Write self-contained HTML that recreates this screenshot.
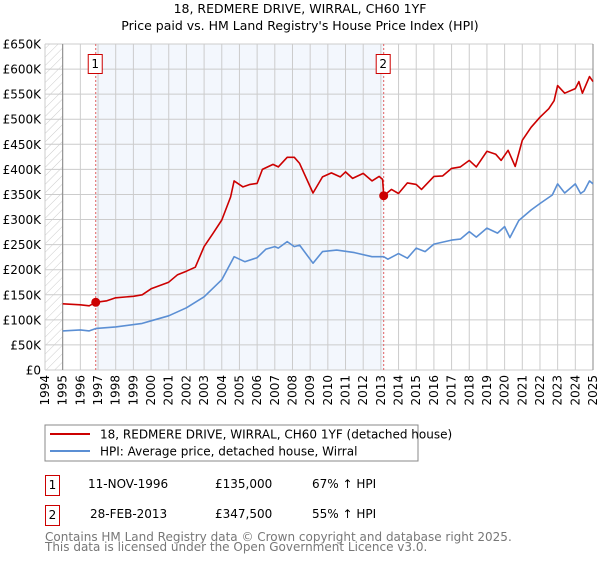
<!DOCTYPE html>
<html><head><meta charset="utf-8"><style>
body{margin:0;background:#fff;font-family:"DejaVu Sans","Liberation Sans",sans-serif;}
svg text{font-family:"DejaVu Sans","Liberation Sans",sans-serif;}
</style></head><body>
<svg id="c" width="600" height="560" xmlns="http://www.w3.org/2000/svg">
<defs><pattern id="hatch" width="6" height="6" patternUnits="userSpaceOnUse" patternTransform="rotate(45)"><line x1="0" y1="0" x2="0" y2="6" stroke="#ccc" stroke-width="1"/></pattern></defs>
<text x="300" y="13" text-anchor="middle" font-size="12.5" fill="#000">18, REDMERE DRIVE, WIRRAL, CH60 1YF</text>
<text x="300" y="30" text-anchor="middle" font-size="12.5" fill="#000">Price paid vs. HM Land Registry's House Price Index (HPI)</text>
<g id="plot"></g>
<rect x="45" y="425" width="373" height="36" fill="#fff" stroke="#888"/>
<line x1="50" y1="434" x2="90" y2="434" stroke="#cc0000" stroke-width="2"/>
<text x="100" y="438.5" font-size="12">18, REDMERE DRIVE, WIRRAL, CH60 1YF (detached house)</text>
<line x1="50" y1="451" x2="90" y2="451" stroke="#5b8fd4" stroke-width="2"/>
<text x="100" y="455.5" font-size="12">HPI: Average price, detached house, Wirral</text>
<g>
<rect x="45.5" y="475.5" width="14" height="20" fill="#fff" stroke="#cc0000"/>
<text x="52.5" y="489" font-size="12" text-anchor="middle">1</text>
<text x="88" y="488" font-size="12">11-NOV-1996</text>
<text x="215" y="488" font-size="12">£135,000</text>
<text x="312" y="488" font-size="12">67% ↑ HPI</text>
</g>
<g>
<rect x="45.5" y="505.5" width="14" height="20" fill="#fff" stroke="#cc0000"/>
<text x="52.5" y="519" font-size="12" text-anchor="middle">2</text>
<text x="90" y="518" font-size="12">28-FEB-2013</text>
<text x="215" y="518" font-size="12">£347,500</text>
<text x="312" y="518" font-size="12">55% ↑ HPI</text>
</g>
<text x="45" y="541" font-size="12" fill="#777">Contains HM Land Registry data © Crown copyright and database right 2025.</text>
<text x="45" y="551" font-size="12" fill="#777">This data is licensed under the Open Government Licence v3.0.</text>
</svg>
<script>
const yTicks=[0,50,100,150,200,250,300,350,400,450,500,550,600,650];
const yTickLabels=["£0","£50K","£100K","£150K","£200K","£250K","£300K","£350K","£400K","£450K","£500K","£550K","£600K","£650K"];
const xYears=[1994,1995,1996,1997,1998,1999,2000,2001,2002,2003,2004,2005,2006,2007,2008,2009,2010,2011,2012,2013,2014,2015,2016,2017,2018,2019,2020,2021,2022,2023,2024,2025];
const hpiYears=[1995,1996,1996.5,1996.9,1998,1999.5,2000,2001,2002,2003,2004,2004.7,2005.3,2006,2006.5,2007,2007.2,2007.7,2008.1,2008.4,2009.16,2009.7,2010.5,2011.5,2012.5,2013.16,2013.4,2014,2014.5,2015,2015.5,2016,2017,2017.5,2018,2018.4,2019,2019.6,2020,2020.3,2020.8,2021.5,2022,2022.7,2023,2023.4,2024,2024.3,2024.5,2024.8,2025];
const hpiValues=[78,80,78,83,86,93,98,108,124,146,180,226,216,224,241,246,243,256,246,249,213,236,239,234,226,226,221,232,223,243,236,251,259,261,276,265,283,273,286,264,298,319,332,349,371,353,371,352,357,377,371];
const priceYears=[1995,1996,1996.5,1996.87,1997.5,1998,1999,1999.5,2000,2001,2001.5,2002,2002.5,2003,2003.5,2004,2004.5,2004.7,2005.2,2005.6,2006,2006.3,2006.9,2007.2,2007.7,2008.1,2008.4,2009.16,2009.7,2010.2,2010.7,2011,2011.4,2012,2012.5,2012.9,2013.1,2013.16,2013.6,2014,2014.5,2015,2015.3,2016,2016.5,2017,2017.5,2018,2018.4,2019,2019.5,2019.8,2020.2,2020.6,2021,2021.5,2022,2022.5,2022.8,2023,2023.4,2024,2024.2,2024.4,2024.8,2025];
const priceValues=[132,130,128,135,138,144,147,150,162,175,190,197,205,246,272,299,345,377,365,370,372,400,410,405,424,424,412,353,385,393,385,395,382,392,377,386,380,347.5,360,352,373,370,360,386,387,402,405,418,405,436,430,418,438,406,458,484,504,521,537,567,552,561,575,552,585,575];
const saleYears=[1996.87,2013.16];
const saleValues=[135,347.5];
const saleLabels=["1","2"];

const X0=45,X1=593,Y0=370,Y1=44;
const xs=y=>X0+(y-1994)/(2025-1994)*(X1-X0);
const ys=v=>Y0-v/650*(Y0-Y1);
const NS="http://www.w3.org/2000/svg";
const g=document.getElementById('plot');
function mk(t,a){const e=document.createElementNS(NS,t);for(const k in a)e.setAttribute(k,a[k]);g.appendChild(e);return e;}
let e;
e=mk('rect',{x:xs(1994),y:Y1,width:xs(1995)-xs(1994),height:Y0-Y1,fill:'url(#hatch)'});


e=mk('rect',{x:xs(saleYears[0]),y:Y1,width:xs(saleYears[1])-xs(saleYears[0]),height:Y0-Y1,fill:'#eef3fc',opacity:0.7});


xYears.forEach(yr=>{
 e=mk('line',{x1:xs(yr),x2:xs(yr),y1:Y1,y2:Y0,stroke:'#ccc','stroke-width':1});
 
 
 const tx=xs(yr)+4,ty=375;
 e=mk('text',{x:tx,y:ty,'font-size':12,'text-anchor':'end',transform:`rotate(-90 ${tx} ${ty})`});
 e.textContent=String(yr);
 
 
});
yTicks.forEach((v,i)=>{
 e=mk('line',{x1:X0,x2:X1,y1:ys(v),y2:ys(v),stroke:'#ccc','stroke-width':1});
 
 
 e=mk('text',{x:41,y:ys(v)+4.5,'font-size':12,'text-anchor':'end'});
 e.textContent=yTickLabels[i];
 
 
});
e=mk('line',{x1:xs(1995),x2:xs(1995),y1:Y1,y2:Y0,stroke:'#888','stroke-width':1});


e=mk('line',{x1:X1,x2:X1,y1:Y1,y2:Y0,stroke:'#888','stroke-width':1});


saleYears.forEach((yr,i)=>{
 e=mk('line',{x1:xs(yr),x2:xs(yr),y1:Y1,y2:Y0,stroke:'#e06060','stroke-width':1,'stroke-dasharray':'2,2'});
 
 
 e=mk('rect',{x:xs(yr)-7.5,y:54.5,width:14,height:19,fill:'#fff',stroke:'#cc0000'});
 
 
 e=mk('text',{x:xs(yr)-0.5,y:68,'font-size':12,'text-anchor':'middle'});
 e.textContent=saleLabels[i];
 
 
});
function path(xa,va,col,name){
 const d=xa.map((x,i)=>(i?'L':'M')+xs(x).toFixed(1)+','+ys(va[i]).toFixed(1)).join('');
 const p=mk('path',{d:d,fill:'none',stroke:col,'stroke-width':1.6,'stroke-linejoin':'round'});
 
 
}
path(hpiYears,hpiValues,'#5b8fd4','hpi-line');
path(priceYears,priceValues,'#cc0000','price-line');
saleYears.forEach((yr,i)=>{
 e=mk('circle',{cx:xs(yr),cy:ys(saleValues[i]),r:4.5,fill:'#cc0000'});
 
 
});
</script>
</body></html>
